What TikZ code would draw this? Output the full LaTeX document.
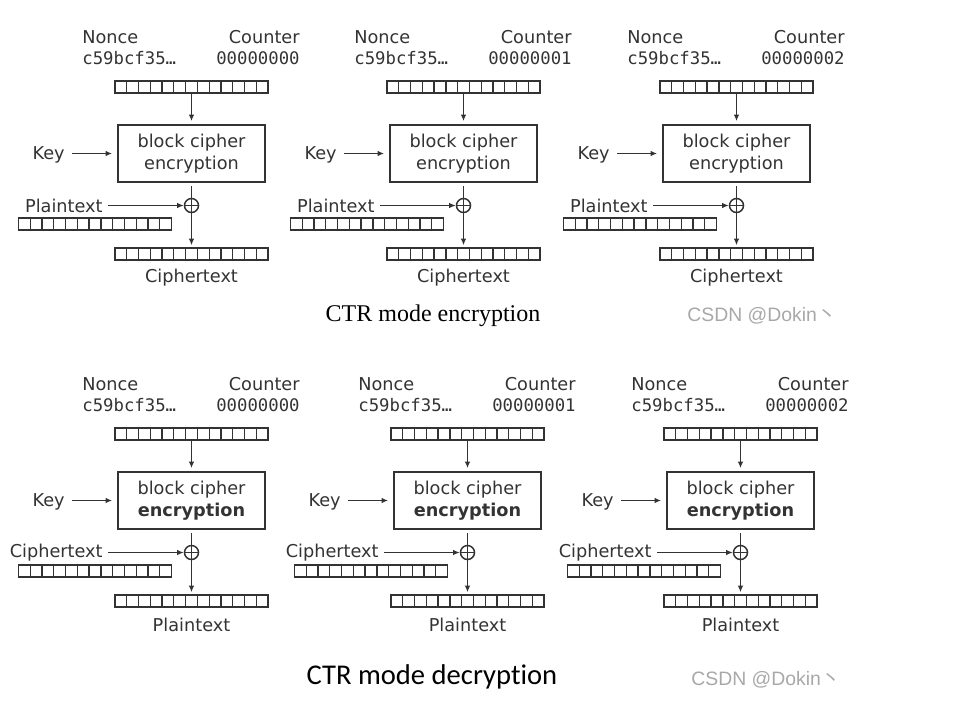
\documentclass[tikz,border=0pt]{standalone}
\usepackage{fontspec}
\usetikzlibrary{arrows.meta,calc}
\newfontfamily\labfont{DejaVu Sans}
\newfontfamily\hexfont{DejaVu Sans Mono}
\newfontfamily\titfont{Liberation Serif}
\newfontfamily\calfont[Ligatures=NoCommon]{Carlito}
\newfontfamily\wmfont{Liberation Sans}
\newfontfamily\cjk{Noto Sans CJK SC}
\definecolor{Ink}{rgb}{0.2, 0.2, 0.2}
\definecolor{Mark}{rgb}{0.66, 0.66, 0.66}

\begin{document}
\begin{tikzpicture}[x=0.5pt, y=-0.5pt]

      \tikzstyle{Lab}=[inner sep=0, text=Ink, font=\labfont\fontsize{8.85}{11}\selectfont];
      \tikzstyle{Hex}=[inner sep=0, text=Ink, font=\hexfont\fontsize{8.65}{10}\selectfont];
      \tikzstyle{Bar}=[rectangle, draw=Ink, line width=0.75pt, minimum width=76.5pt,
        minimum height=6pt, inner sep=0,
        path picture={
          \foreach \k in {1,...,12}
            \draw[Ink, line width=0.65pt]
              ($(path picture bounding box.north west)!\k/13!(path picture bounding box.north east)$) --
              ($(path picture bounding box.south west)!\k/13!(path picture bounding box.south east)$);
        }];
      \tikzstyle{Blk}=[rectangle, draw=Ink, line width=0.9pt, minimum width=73.5pt,
        minimum height=28.5pt, inner sep=0, align=center, text=Ink,
        font=\labfont\fontsize{8.85}{11}\selectfont];
      \tikzstyle{Xor}=[circle, draw=Ink, line width=0.75pt, minimum size=7pt, inner sep=0];
      \tikzstyle{Arr}=[-{Latex[length=3.3pt, width=2.8pt]}, draw=Ink, line width=0.75pt];

      \useasboundingbox (0,0) rectangle (958,703);

      \foreach \ox/\oy/\cnt/\inp/\outp/\enc/\n in {
          0/0/00000000/Plaintext/Ciphertext/encryption/a,
          272/0/00000001/Plaintext/Ciphertext/encryption/b,
          545/0/00000002/Plaintext/Ciphertext/encryption/c,
          0/347/00000000/Ciphertext/Plaintext/{\bfseries encryption}/d,
          276/347/00000001/Ciphertext/Plaintext/{\bfseries encryption}/e,
          549/347/00000002/Ciphertext/Plaintext/{\bfseries encryption}/f}{
        \begin{scope}[shift={(\ox,\oy)}]
          \node[Lab, anchor=west](Nonce\n) at (82, 37) {Nonce};
          \node[Hex, anchor=west](NonceHex\n) at (82, 58) {c59bcf35…};
          \node[Lab, anchor=east](Counter\n) at (300, 37) {Counter};
          \node[Hex, anchor=east](CtrHex\n) at (300, 58) {\cnt};

          \node[Bar](CtrBar\n) at (191.5, 87) {};
          \node[Blk](Blk\n) at (191.5, 153.5) {block cipher\\\enc};
          \node[Lab, anchor=east](Key\n) at (65, 155) {Key};
          \node[Xor](Xor\n) at (191.5, 205.5) {};
          \node[Lab, anchor=east](In\n) at (103, 205.5) {\inp};
          \node[Bar](InBar\n) at (95, 224) {};
          \node[Bar](OutBar\n) at (191.5, 254) {};
          \node[Lab](Out\n) at (191.5, 278) {\outp};

          \draw[Ink, line width=0.6pt] (Xor\n.north) -- (Xor\n.south) (Xor\n.west) -- (Xor\n.east);
          \draw[Arr, shorten >=1.5pt] (CtrBar\n) -- (Blk\n);
          \draw[Arr, shorten <=3.5pt, shorten >=2.5pt] (Key\n.east |- Blk\n) -- (Blk\n);
          \draw[Ink, line width=0.75pt, shorten <=1.5pt] (Blk\n) -- (Xor\n);
          \draw[Arr, shorten <=2.5pt] (In\n) -- (Xor\n);
          \draw[Arr, shorten >=1pt] (Xor\n) -- (OutBar\n);
        \end{scope}
      }

      \node[font=\titfont\fontsize{12}{14}\selectfont](EncTitle) at (433, 316) {CTR mode encryption};
      \node[font=\calfont\fontsize{14.3}{16}\selectfont](DecTitle) at (432, 677) {CTR mode decryption};
      \node[anchor=west, inner sep=0, text=Mark, font=\wmfont\fontsize{9.7}{11}\selectfont](MarkEnc)
        at (687, 316) {CSDN @Dokin{\cjk 丶}};
      \node[anchor=west, inner sep=0, text=Mark, font=\wmfont\fontsize{9.7}{11}\selectfont](MarkDec)
        at (691, 680) {CSDN @Dokin{\cjk 丶}};

    \end{tikzpicture}
\end{document}
